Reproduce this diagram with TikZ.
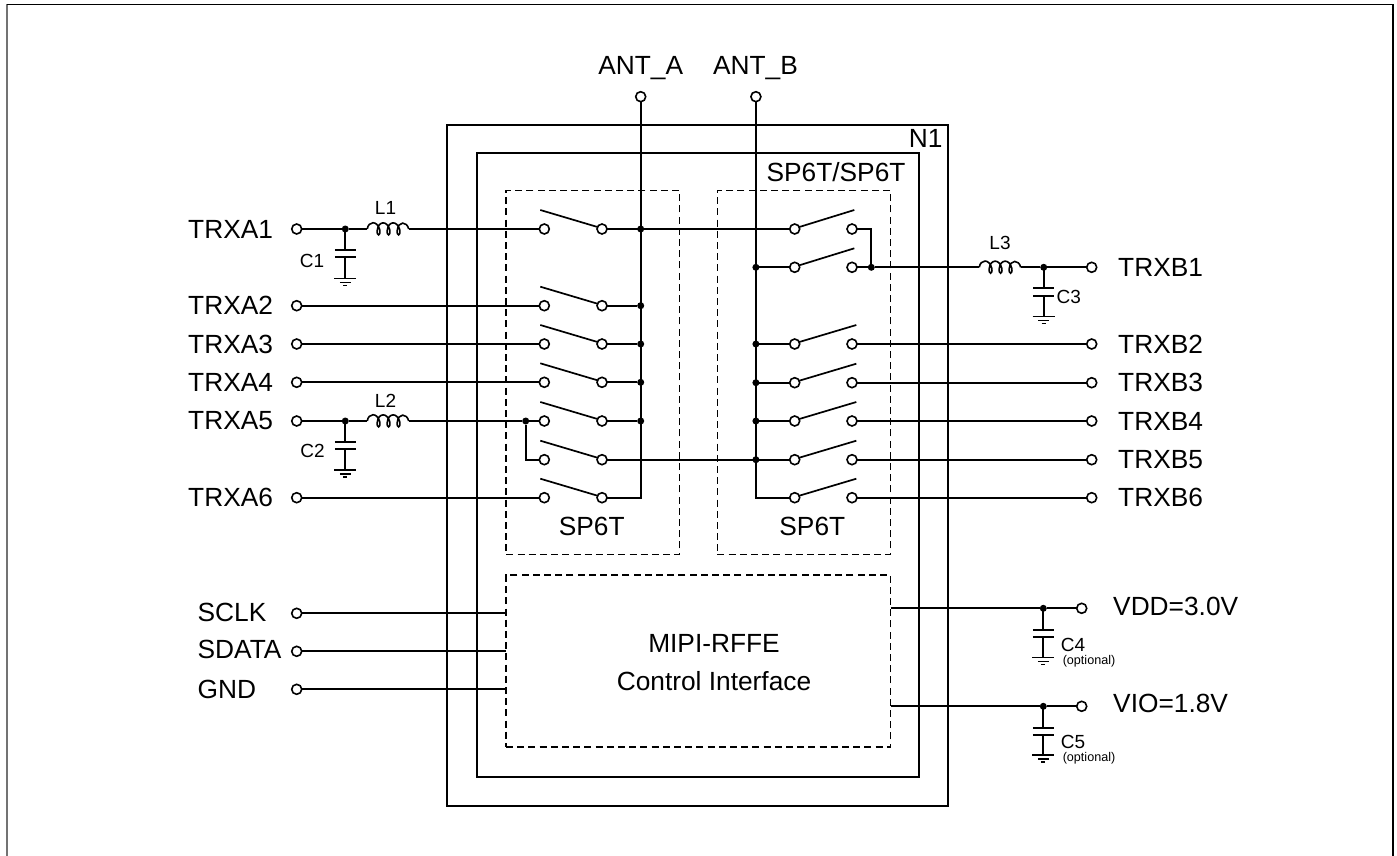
\documentclass[tikz,border=0pt]{standalone}
\usepackage{fontspec}
\setmainfont{Liberation Sans}
\newcommand{\fsbig}{\fontsize{26.3}{30}\selectfont}
\newcommand{\fsmid}{\fontsize{19}{22}\selectfont}
\newcommand{\fssmall}{\fontsize{12.6}{15}\selectfont}
\tikzset{
  wire/.style={line width=1.85pt,black,line join=miter},
  term/.style={circle,draw=black,line width=1.6pt,fill=white,inner sep=0pt,minimum size=10pt,outer sep=0pt},
  dotj/.style={circle,fill=black,draw=none,inner sep=0pt,minimum size=7pt,outer sep=0pt},
  icbox/.style={rectangle,draw=black,line width=2pt,inner sep=0pt,outer sep=0pt},
  dashbox/.style={rectangle,draw=black,line width=1.75pt,dash pattern=on 7pt off 4.2pt,inner sep=0pt,outer sep=0pt},
  biglabel/.style={font=\fsbig,text=black,inner sep=0pt},
  biglabelL/.style={biglabel,anchor=west},
  midlabel/.style={font=\fsmid,text=black,inner sep=0pt},
  smalllabel/.style={font=\fssmall,text=black,inner sep=0pt},
  swarm/.style={line width=1.7pt,black},
  gridgnd/.style={line width=1.5pt,black},
  pics/capgnd/.style args={#1/#2/#3}{code={
    \draw[wire] (0,0) -- (0,#1);
    \draw[wire] (-10.5,#1) -- (10.5,#1);
    \draw[wire] (-10.5,#2) -- (10.5,#2);
    \draw[wire] (0,#2) -- (0,#3);
    \draw[gridgnd] (-11,#3) -- (11,#3);
    \draw[line width=1.1pt] (-5.5,#3+4) -- (5.5,#3+4);
    \draw[line width=1.1pt] (-2,#3+7) -- (2,#3+7);
  }},
  pics/coil/.style={code={
    \draw[wire,line width=1.6pt]
      (0,0) .. controls (1,-8) and (10,-9) .. (12.5,1)
      .. controls (13.5,7.5) and (9,7.5) .. (10,1)
      .. controls (11,-8) and (20,-9) .. (22.5,1)
      .. controls (23.5,7.5) and (19,7.5) .. (20,1)
      .. controls (21,-8) and (30,-9) .. (32.5,1)
      .. controls (33.5,7.5) and (29,7.5) .. (30,1)
      .. controls (31,-8) and (39.5,-8) .. (41.4,0);
  }},
}
\begin{document}
\begin{tikzpicture}[x=1pt,y=-1pt]
\useasboundingbox (0,0) rectangle (1397,856);
% page frame
\coordinate (fbl) at (7,856);
\coordinate (ftl) at (7,4.5);
\coordinate (ftr) at (1393,4.5);
\coordinate (fbr) at (1393,856);
\draw[line width=1.7pt,black!55] (fbl) -- (ftl);
\draw[line width=1.5pt,black] (ftl) -- (ftr) -- (fbr);
% boxes
\node[icbox,minimum width=501pt,minimum height=681.3pt] (n1) at (697.8,465.35) {};
\node[icbox,minimum width=442.3pt,minimum height=624pt] (sw) at (697.85,464.7) {};
\node[dashbox,minimum width=173.2pt,minimum height=363.8pt] (swa) at (592.9,372.5) {};
\node[dashbox,minimum width=173.2pt,minimum height=363.8pt] (swb) at (804,372.5) {};
\node[dashbox,minimum width=384.6pt,minimum height=171.7pt] (ctrl) at (698.3,660.85) {};
% terminals, left
\node[term] (ta1) at (296.7,229) {};
\node[term] (ta2) at (296.7,305.7) {};
\node[term] (ta3) at (296.7,344) {};
\node[term] (ta4) at (296.7,382.3) {};
\node[term] (ta5) at (296.7,421) {};
\node[term] (ta6) at (296.7,497.7) {};
\node[term] (tsclk) at (296.7,613.3) {};
\node[term] (tsdata) at (296.7,651.3) {};
\node[term] (tgnd) at (296.7,689.3) {};
% terminals, top
\node[term] (antA) at (640.7,96.7) {};
\node[term] (antB) at (755.9,96.7) {};
% terminals, right
\node[term] (tb1) at (1091.7,267.3) {};
\node[term] (tb2) at (1091.7,344) {};
\node[term] (tb3) at (1091.7,382.7) {};
\node[term] (tb4) at (1091.7,421) {};
\node[term] (tb5) at (1091.7,459.7) {};
\node[term] (tb6) at (1091.7,497.7) {};
\node[term] (tvdd) at (1081.7,608.3) {};
\node[term] (tvio) at (1081.7,706.3) {};
% contacts, switch A
\foreach \n/\y in {1/229,2/305.7,3/344,4/382.3,5/421,6/459.7,7/497.7}{
  \node[term] (al\n) at (544.3,\y) {};
  \node[term] (ar\n) at (602,\y) {};
  \coordinate (ah\n) at (540.3,\y-19);
  \coordinate (at\n) at (597.5,\y-2);
  \draw[swarm] (ah\n) -- (at\n);
}
% contacts, switch B
\foreach \n/\y/\e in {1/229/854.3,2/267.3/854.3,3/344/856.3,4/382.7/856.3,5/421/856.3,6/459.7/856.3,7/497.7/856.3}{
  \node[term] (bl\n) at (794.7,\y) {};
  \node[term] (br\n) at (852,\y) {};
  \coordinate (bh\n) at (\e,\y-19);
  \coordinate (bt\n) at (799.3,\y-2);
  \draw[swarm] (bt\n) -- (bh\n);
}
% junctions
\foreach \n/\x/\y in {c1/345.3/229,c2/345.3/421,c3/1043.7/267.3,c4/1043.3/608.3,c5/1043.3/706.3,
  j5/525.7/421,a1/640.7/229,a2/640.7/305.7,a3/640.7/344,a4/640.7/382.3,a5/640.7/421,
  b2/755.9/267.3,b3/755.9/344,b4/755.9/382.7,b5/755.9/421,b6/755.9/459.7,r1/871.3/267.3}{
  \node[dotj] (d\n) at (\x,\y) {};
}
% coils
\coordinate (l1a) at (367.3,229);  \coordinate (l1b) at (408.7,229);
\coordinate (l2a) at (367.3,421);  \coordinate (l2b) at (408.7,421);
\coordinate (l3a) at (979.3,267.3);\coordinate (l3b) at (1020.7,267.3);
\pic at (l1a) {coil};
\pic at (l2a) {coil};
\pic at (l3a) {coil};
% capacitors
\pic at (dc1) {capgnd={21.3/28.3/49.3}};
\pic at (dc2) {capgnd={21.3/28.3/49}};
\pic at (dc3) {capgnd={21/28.7/49}};
\pic at (dc4) {capgnd={21.7/29/49.4}};
\pic at (dc5) {capgnd={21.4/28.7/48.7}};
% wires, left side
\draw[wire] (ta1) -- (dc1) -- (l1a);
\draw[wire] (l1b) -- (al1);
\draw[wire] (ta2) -- (al2);
\draw[wire] (ta3) -- (al3);
\draw[wire] (ta4) -- (al4);
\draw[wire] (ta5) -- (dc2) -- (l2a);
\draw[wire] (l2b) -- (dj5) -- (al5);
\draw[wire] (dj5) |- (al6);
\draw[wire] (ta6) -- (al7);
% common buses
\coordinate (acorner) at (640.7,497.7);
\coordinate (bcorner) at (755.9,497.7);
\draw[wire] (antA) -- (acorner) -- (ar7);
\draw[wire] (antB) -- (bcorner) -- (bl7);
\draw[wire] (ar1) -- (bl1);
\draw[wire] (ar2) -- (da2);
\draw[wire] (ar3) -- (da3);
\draw[wire] (ar4) -- (da4);
\draw[wire] (ar5) -- (da5);
\draw[wire] (ar6) -- (bl6);
\draw[wire] (db2) -- (bl2);
\draw[wire] (db3) -- (bl3);
\draw[wire] (db4) -- (bl4);
\draw[wire] (db5) -- (bl5);
% wires, right side
\draw[wire] (br1) -| (dr1);
\draw[wire] (br2) -- (dr1) -- (l3a);
\draw[wire] (l3b) -- (dc3) -- (tb1);
\draw[wire] (br3) -- (tb2);
\draw[wire] (br4) -- (tb3);
\draw[wire] (br5) -- (tb4);
\draw[wire] (br6) -- (tb5);
\draw[wire] (br7) -- (tb6);
% control
\draw[wire] (tsclk) -- (tsclk -| ctrl.west);
\draw[wire] (tsdata) -- (tsdata -| ctrl.west);
\draw[wire] (tgnd) -- (tgnd -| ctrl.west);
\draw[wire] (tvdd -| ctrl.east) -- (dc4) -- (tvdd);
\draw[wire] (tvio -| ctrl.east) -- (dc5) -- (tvio);
% labels
\node[biglabel] (lantA) at (640.7,68) {ANT\_A};
\node[biglabel] (lantB) at (755.5,68) {ANT\_B};
\node[biglabel] (ln1) at (925.7,138) {N1};
\node[biglabel] (lsw) at (836,171.7) {SP6T/SP6T};
\node[biglabel] (lspa) at (591.7,526.7) {SP6T};
\node[biglabel] (lspb) at (812.3,526.7) {SP6T};
\node[biglabel] (lm1) at (714,643) {MIPI-RFFE};
\node[biglabel] (lm2) at (714,681) {Control Interface};
\foreach \n/\y in {1/229,2/305.7,3/344,4/382.3,5/421,6/497.7}{
  \node[biglabelL] (la\n) at (188,\y) {TRXA\n};
}
\foreach \n/\y in {1/267.3,2/344,3/382.7,4/421,5/459.5,6/497.7}{
  \node[biglabelL] (lb\n) at (1118,\y) {TRXB\n};
}
\node[biglabelL] (lsclk) at (197.5,612.5) {SCLK};
\node[biglabelL] (lsdata) at (197.5,649.5) {SDATA};
\node[biglabelL] (lgnd) at (197.5,689.5) {GND};
\node[biglabelL] (lvdd) at (1113,606) {VDD=3.0V};
\node[biglabelL] (lvio) at (1113,703) {VIO=1.8V};
\node[midlabel] (ll1) at (385.5,208) {L1};
\node[midlabel] (ll2) at (385.5,400.7) {L2};
\node[midlabel] (ll3) at (1000,243) {L3};
\node[midlabel] (lc1) at (312,261) {C1};
\node[midlabel] (lc2) at (312.5,451) {C2};
\node[midlabel] (lc3) at (1068.7,297) {C3};
\node[midlabel] (lc4) at (1073,645) {C4};
\node[midlabel] (lc5) at (1073,741.7) {C5};
\node[smalllabel] (lo4) at (1089,661.7) {(optional)};
\node[smalllabel] (lo5) at (1089,758) {(optional)};
\end{tikzpicture}
\end{document}
